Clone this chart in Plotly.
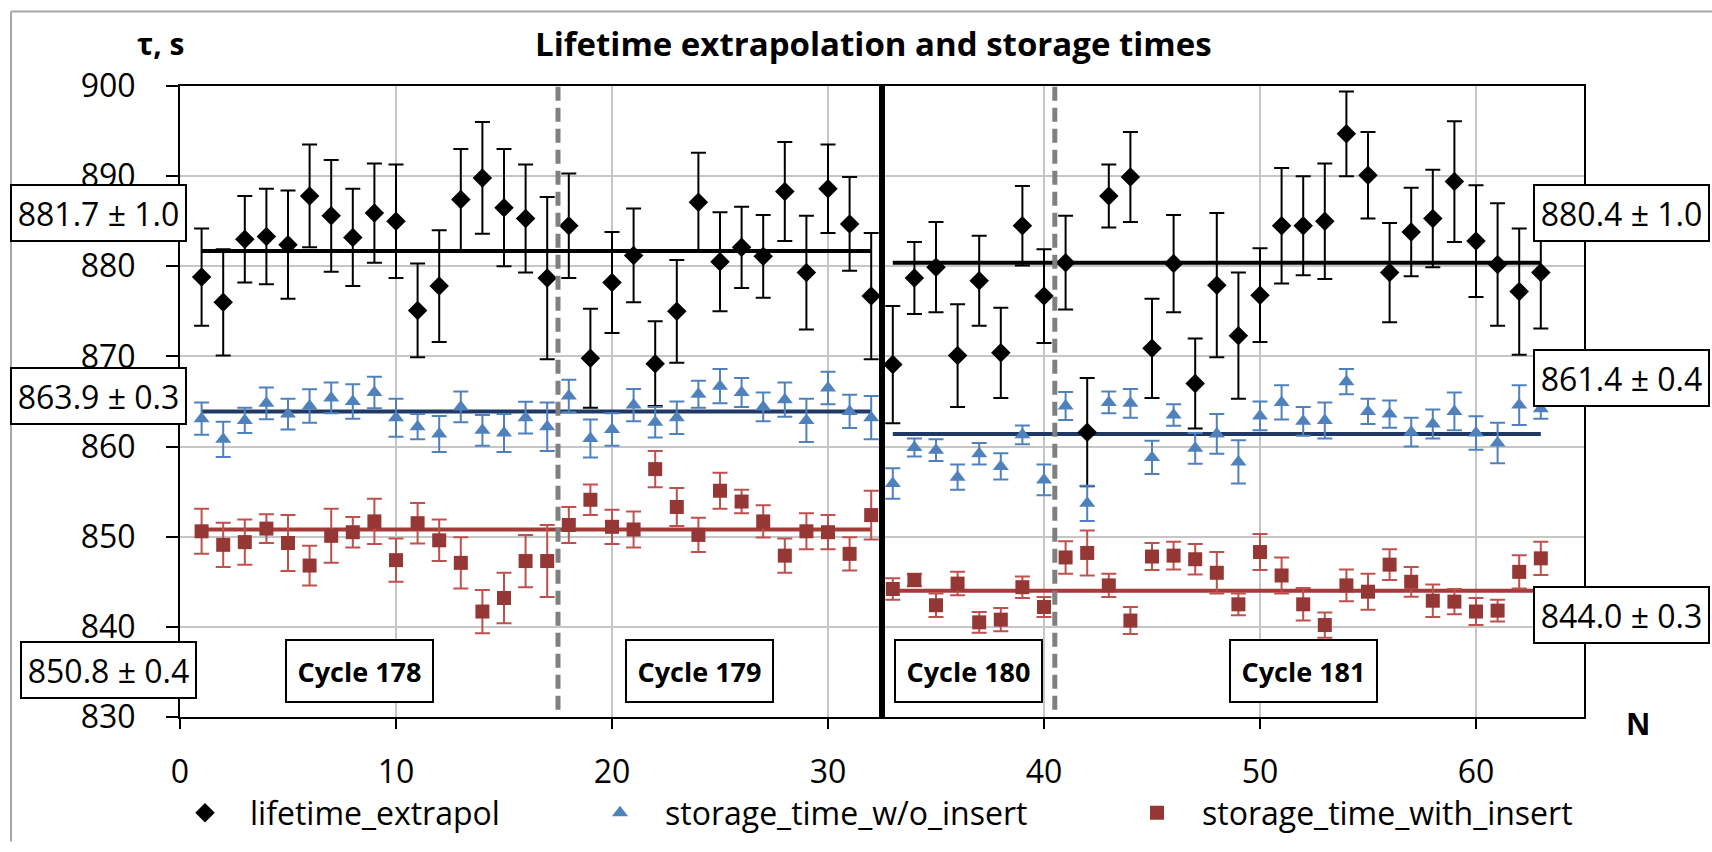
import plotly.graph_objects as go

# ---------------- data ----------------
N = list(range(1, 64))

lifetime = [878.8, 876.0, 883.0, 883.3, 882.4, 887.8, 885.6, 883.2, 885.9, 885.0,
            875.1, 877.8, 887.4, 889.8, 886.5, 885.3, 878.7, 884.5, 869.8, 878.2,
            881.2, 869.2, 875.0, 887.1, 880.5, 882.1, 881.1, 888.3, 879.3, 888.6,
            884.7, 876.7, 869.1, 878.7, 879.9, 870.1, 878.4, 870.4, 884.5, 876.7,
            880.4, 861.6, 887.8, 889.9, 870.9, 880.3, 867.0, 877.9, 872.3, 876.8,
            884.5, 884.5, 885.0, 894.7, 890.1, 879.3, 883.8, 885.3, 889.4, 882.8,
            880.2, 877.2, 879.3]
lifetime_err = [5.4, 5.9, 4.8, 5.3, 6.0, 5.7, 6.2, 5.4, 5.5, 6.3,
                5.2, 6.2, 5.6, 6.2, 6.5, 6.0, 9.0, 5.8, 5.5, 5.6,
                5.2, 4.7, 5.7, 5.5, 5.5, 4.5, 4.6, 5.5, 6.3, 4.9,
                5.2, 7.0, 6.5, 4.0, 5.0, 5.7, 5.0, 5.0, 4.4, 5.2,
                5.2, 6.0, 3.5, 5.0, 5.5, 5.4, 5.0, 8.0, 7.0, 5.2,
                6.4, 5.5, 6.4, 4.7, 4.8, 5.5, 4.9, 5.4, 6.7, 6.2,
                6.8, 7.0, 6.2]

wo_insert = [863.1, 860.8, 862.9, 864.8, 863.6, 864.5, 865.4, 865.0, 866.0, 863.2,
             862.2, 861.4, 864.4, 861.8, 861.5, 863.2, 862.2, 865.6, 860.9, 861.9,
             864.6, 862.7, 863.2, 865.8, 866.7, 866.0, 864.4, 865.2, 862.9, 866.5,
             863.9, 863.2, 855.9, 859.9, 859.6, 856.6, 859.2, 857.8, 861.3, 856.3,
             864.5, 853.7, 864.9, 864.8, 858.8, 863.5, 859.8, 861.4, 858.3, 863.4,
             864.9, 862.8, 862.9, 867.2, 863.9, 863.6, 861.6, 862.5, 863.9, 861.5,
             860.4, 864.6, 864.2]
wo_insert_err = [1.8, 1.95, 1.4, 1.76, 1.7, 1.86, 1.7, 1.9, 1.75, 2.1,
                 1.4, 2.0, 1.7, 1.7, 2.1, 1.76, 2.7, 1.8, 2.1, 1.8,
                 1.8, 1.7, 1.8, 1.5, 1.9, 1.6, 1.6, 1.9, 2.4, 1.8,
                 1.85, 2.4, 1.7, 1.0, 1.2, 1.4, 1.2, 1.45, 1.05, 1.7,
                 1.55, 1.95, 1.2, 1.6, 1.85, 1.2, 1.7, 2.2, 2.4, 1.6,
                 1.9, 1.6, 2.0, 1.4, 1.4, 1.5, 1.6, 1.6, 2.1, 1.85,
                 2.25, 2.2, 1.1]

with_insert = [850.6, 849.1, 849.4, 850.9, 849.3, 846.8, 850.1, 850.5, 851.7, 847.4,
               851.5, 849.6, 847.1, 841.7, 843.2, 847.3, 847.3, 851.3, 854.1, 851.1,
               850.8, 857.5, 853.3, 850.2, 855.1, 853.9, 851.7, 847.9, 850.6, 850.5,
               848.1, 852.4, 844.2, 845.2, 842.4, 844.8, 840.5, 840.8, 844.4, 842.2,
               847.7, 848.2, 844.6, 840.7, 847.8, 847.9, 847.5, 846.0, 842.5, 848.3,
               845.7, 842.5, 840.2, 844.6, 843.9, 846.9, 845.0, 842.9, 842.8, 841.7,
               841.8, 846.1, 847.6]
with_insert_err = [2.5, 2.45, 2.5, 1.6, 3.1, 2.2, 3.0, 1.7, 2.5, 2.4,
                   2.25, 2.3, 2.85, 2.4, 2.8, 2.9, 4.0, 2.0, 1.7, 1.9,
                   2.0, 2.0, 2.1, 1.9, 2.0, 1.3, 1.8, 1.9, 2.0, 1.9,
                   1.85, 2.7, 1.2, 0.7, 1.3, 1.3, 1.15, 1.3, 1.2, 1.1,
                   1.8, 2.5, 1.3, 1.5, 1.5, 1.55, 1.7, 2.3, 1.2, 2.0,
                   2.0, 1.8, 1.4, 1.75, 2.0, 1.7, 1.65, 1.8, 1.4, 1.5,
                   1.2, 1.85, 1.85]

# fitted averages for the two periods (N 1..32 and N 33..63)
fit_ranges = [(1, 32), (33, 63)]
fit_lifetime = [881.7, 880.4]
fit_wo = [863.9, 861.4]
fit_with = [850.8, 844.0]
fit_lifetime_txt = ["881.7 ± 1.0", "880.4 ± 1.0"]
fit_wo_txt = ["863.9 ± 0.3", "861.4 ± 0.4"]
fit_with_txt = ["850.8 ± 0.4", "844.0 ± 0.3"]

cycle_names = ["Cycle 178", "Cycle 179", "Cycle 180", "Cycle 181"]
dashed_sep = [17.5, 40.5]
solid_sep = [32.5]

x_ticks = [0, 10, 20, 30, 40, 50, 60]
y_ticks = [830, 840, 850, 860, 870, 880, 890, 900]

# ---------------- layout helpers ----------------
W, H = 1712, 852
L, R, T, B = 180, 128, 86, 122
PW, PH = W - L - R, H - T - B
FONT = "Open Sans"


def px(x, y):
    return (x - L) / PW, (H - B - y) / PH


BLACK = "black"
BLUE = "#4f81bd"
BLUE_LINE = "#1f3864"
RED = "#953735"
RED_ERR = "#c0504d"
RED_LINE = "#a33b38"

fig = go.Figure()

# fit lines
for vals, col in [(fit_lifetime, BLACK), (fit_wo, BLUE_LINE), (fit_with, RED_LINE)]:
    for (a, b), v in zip(fit_ranges, vals):
        fig.add_trace(go.Scatter(x=[a, b], y=[v, v], mode="lines",
                                 line=dict(color=col, width=4),
                                 showlegend=False, hoverinfo="skip"))

fig.add_trace(go.Scatter(
    x=N, y=lifetime, mode="markers", name="lifetime_extrapol",
    marker=dict(symbol="diamond", size=15, color=BLACK),
    error_y=dict(type="data", array=lifetime_err, color=BLACK, thickness=2, width=7.5),
    legend="legend"))
fig.add_trace(go.Scatter(
    x=N, y=wo_insert, mode="markers", name="storage_time_w/o_insert",
    marker=dict(symbol="triangle-up", size=14, color=BLUE),
    error_y=dict(type="data", array=wo_insert_err, color=BLUE, thickness=2, width=7.5),
    legend="legend2"))
fig.add_trace(go.Scatter(
    x=N, y=with_insert, mode="markers", name="storage_time_with_insert",
    marker=dict(symbol="square", size=14, color=RED),
    error_y=dict(type="data", array=with_insert_err, color=RED_ERR, thickness=2, width=7.5),
    legend="legend3"))

shapes = []
for xv in dashed_sep:
    shapes.append(dict(type="line", xref="x", yref="y", x0=xv, x1=xv, y0=830.8, y1=900,
                       line=dict(color="#808080", width=5, dash="14px,7px"), layer="above"))
for xv in solid_sep:
    shapes.append(dict(type="line", xref="x", yref="y", x0=xv, x1=xv, y0=830, y1=900,
                       line=dict(color=BLACK, width=6), layer="above"))
# outer chart border (gray)
x0, y0 = px(11, 10)
x1, _ = px(W + 5, 10)
_, y1 = px(11, H + 5)
shapes.append(dict(type="line", xref="paper", yref="paper", x0=x0, x1=x1, y0=y0, y1=y0,
                   line=dict(color="#a6a6a6", width=2)))
shapes.append(dict(type="line", xref="paper", yref="paper", x0=x0, x1=x0, y0=y0, y1=y1,
                   line=dict(color="#a6a6a6", width=2)))

annotations = []


def add_text(text, cx, cy, size, bold=False, box=None):
    ax, ay = px(cx, cy)
    d = dict(text=("<b>%s</b>" % text) if bold else text, x=ax, y=ay,
             xref="paper", yref="paper", xanchor="center", yanchor="middle",
             showarrow=False, font=dict(family=FONT, size=size, color="black"))
    if box:
        d.update(bordercolor="black", borderwidth=2, bgcolor="white",
                 width=box[0], height=box[1], borderpad=0, align="center", valign="middle")
    annotations.append(d)


add_text("Lifetime extrapolation and storage times", 873, 43, 33, bold=True)
add_text("τ, s", 160, 43, 30, bold=True)
add_text("N", 1638, 737, 30, bold=True)

# value boxes
left_pos = [(98, 216), (98, 402), (108, 682)]
right_pos = [(1621, 216), (1621, 384), (1621, 626)]
for txts, lp, rp in zip([fit_lifetime_txt, fit_wo_txt, fit_with_txt], left_pos, right_pos):
    add_text(txts[0], lp[0], lp[1], 32, box=(173, 54))
    add_text(txts[1], rp[0], rp[1], 32, box=(173, 54))

cycle_pos = [359, 699, 968, 1303]
for name, cx in zip(cycle_names, cycle_pos):
    add_text(name, cx, 683, 27, bold=True, box=(145, 60))

axis_common = dict(showgrid=True, gridcolor="#c6c6c6", gridwidth=1.5,
                   showline=True, linecolor="black", linewidth=2, mirror=True,
                   ticks="outside", tickcolor="black", tickwidth=2,
                   zeroline=False, tickfont=dict(family=FONT, size=32, color="black"))

leg_common = dict(orientation="h", xanchor="left", yanchor="middle",
                  font=dict(family=FONT, size=32, color="black"),
                  bgcolor="rgba(0,0,0,0)", itemwidth=80)
lx1, ly = px(160, 828)
lx2, _ = px(575, 828)
lx3, _ = px(1112, 828)

fig.update_layout(
    width=W, height=H,
    margin=dict(l=L, r=R, t=T, b=B, pad=0),
    paper_bgcolor="white", plot_bgcolor="white",
    font=dict(family=FONT, color="black"),
    xaxis=dict(range=[0, 65], tickvals=x_ticks, ticklen=10, ticklabelstandoff=16, **axis_common),
    yaxis=dict(range=[830, 900], tickvals=y_ticks, ticklen=12, ticklabelstandoff=24, **axis_common),
    legend=dict(x=lx1, y=ly, **leg_common),
    legend2=dict(x=lx2, y=ly, **leg_common),
    legend3=dict(x=lx3, y=ly, **leg_common),
    shapes=shapes, annotations=annotations,
)

fig.write_html("out.html")
